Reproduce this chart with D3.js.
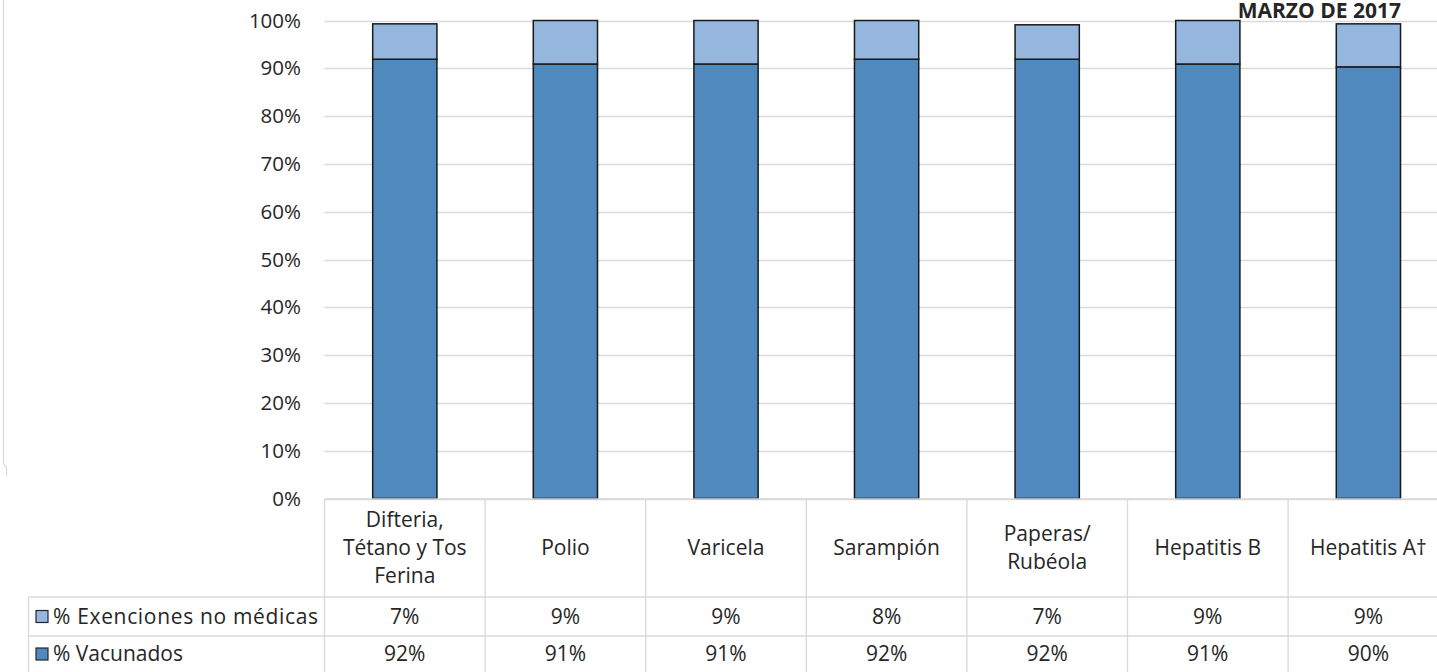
<!DOCTYPE html>
<html>
<head>
<meta charset="utf-8">
<script src="https://cdn.jsdelivr.net/npm/d3@7"></script>
<style>
  html, body { margin: 0; padding: 0; background: #fff; }
  svg { display: block; }
  text { font-family: "Open Sans", "Noto Sans", sans-serif; fill: #262626; }
</style>
</head>
<body>
<svg id="chart" width="1437" height="672"></svg>
<script>
const categories = [
  "Difteria,\nTétano y Tos\nFerina",
  "Polio",
  "Varicela",
  "Sarampión",
  "Paperas/\nRubéola",
  "Hepatitis B",
  "Hepatitis A†"
];
const vacunados   = [0.919, 0.909, 0.909, 0.919, 0.919, 0.909, 0.903];
const exenciones  = [0.074, 0.091, 0.091, 0.081, 0.072, 0.091, 0.090];
const seriesNames = ["% Exenciones no médicas", "% Vacunados"];
const yTicks = [0, 0.1, 0.2, 0.3, 0.4, 0.5, 0.6, 0.7, 0.8, 0.9, 1.0];
const title = "MARZO DE 2017";

const colVac = "#4f89bd";
const colExe = "#95b7de";
const gridCol = "#d9d9d9";
const FS = 21;

const svg = d3.select("#chart");
const W = 1437, H = 672;

const plotLeft = 324.5, colStep = 160.6;
const plotRight = plotLeft + colStep * categories.length;
const yTop = 20.5, yBottom = 498.5;

const x = d3.scaleBand()
  .domain(d3.range(categories.length))
  .range([plotLeft, plotRight])
  .paddingInner(0.6).paddingOuter(0.3);

const y = d3.scaleLinear().domain([0, 1]).range([yBottom, yTop]);

// chart area left border
svg.append("path")
  .attr("d", "M3.5,0 V464 M3.5,464 L6.5,467 V476")
  .attr("stroke", "#d9d9d9").attr("fill", "none").attr("stroke-width", 1.2);

// gridlines
svg.append("g").selectAll("line").data(yTicks).join("line")
  .attr("x1", plotLeft).attr("x2", W)
  .attr("y1", d => Math.round(y(d)) + 0.5).attr("y2", d => Math.round(y(d)) + 0.5)
  .attr("stroke", gridCol).attr("stroke-width", 1.3);

// y axis labels via d3 axis
const yAxis = d3.axisLeft(y).tickValues(yTicks).tickFormat(d3.format(".0%")).tickSize(0).tickPadding(0);
const gy = svg.append("g").attr("transform", `translate(${301},0)`).call(yAxis);
gy.select(".domain").remove();
gy.selectAll("text").attr("font-size", 20.5).attr("fill", "#262626")
  .style("font-family", '"Open Sans", sans-serif');

// stacked bars
const stackData = categories.map((c, i) => ({ i, vac: vacunados[i], exe: exenciones[i] }));
const stack = d3.stack().keys(["vac", "exe"])(stackData);
const colors = { vac: colVac, exe: colExe };
svg.append("g").selectAll("g").data(stack).join("g")
  .attr("fill", d => colors[d.key])
  .selectAll("rect").data(d => d).join("rect")
  .attr("x", d => x(d.data.i))
  .attr("width", x.bandwidth())
  .attr("y", d => y(d[1]))
  .attr("height", d => y(d[0]) - y(d[1]))
  .attr("stroke", "#1a1a1a").attr("stroke-width", 1.5);

// data table
const rowTops = [499, 597, 636, 672];
const tableLeft = 28.5;
const tg = svg.append("g");
tg.append("line").attr("x1", plotLeft).attr("x2", W).attr("y1", rowTops[0]).attr("y2", rowTops[0])
  .attr("stroke", gridCol).attr("stroke-width", 1.3);
[rowTops[1], rowTops[2]].forEach(yy => {
  tg.append("line").attr("x1", tableLeft).attr("x2", W).attr("y1", yy).attr("y2", yy)
    .attr("stroke", gridCol).attr("stroke-width", 1.3);
});
d3.range(categories.length + 1).forEach(k => {
  const xx = plotLeft + k * colStep;
  if (xx < W) tg.append("line").attr("x1", xx).attr("x2", xx).attr("y1", rowTops[0]).attr("y2", H)
    .attr("stroke", gridCol).attr("stroke-width", 1.3);
});
tg.append("line").attr("x1", tableLeft).attr("x2", tableLeft).attr("y1", rowTops[1]).attr("y2", H)
  .attr("stroke", gridCol).attr("stroke-width", 1.3);

// category labels
const lineH = 28;
categories.forEach((c, i) => {
  const lines = c.split("\n");
  const cx = plotLeft + (i + 0.5) * colStep;
  const cy = (rowTops[0] + rowTops[1]) / 2;
  const t = tg.append("text").attr("text-anchor", "middle").attr("font-size", FS);
  lines.forEach((ln, k) => {
    t.append("tspan").attr("x", cx)
      .attr("y", cy + (k - (lines.length - 1) / 2) * lineH)
      .attr("dy", "0.35em").text(ln);
  });
});

// series rows
const fmt = d3.format(".0%");
const rows = [
  { name: seriesNames[0], vals: exenciones, color: colExe },
  { name: seriesNames[1], vals: vacunados, color: colVac }
];
rows.forEach((r, ri) => {
  const cy = (rowTops[ri + 1] + rowTops[ri + 2]) / 2;
  tg.append("rect").attr("x", 36).attr("y", cy - 6).attr("width", 12).attr("height", 12)
    .attr("fill", r.color).attr("stroke", "#262626").attr("stroke-width", 1.2);
  tg.append("text").attr("x", 53).attr("y", cy).attr("dy", "0.35em")
    .attr("font-size", FS).attr("textLength", ri === 0 ? 265 : null).text(r.name);
  r.vals.forEach((v, i) => {
    tg.append("text").attr("x", plotLeft + (i + 0.5) * colStep).attr("y", cy).attr("dy", "0.35em")
      .attr("text-anchor", "middle").attr("font-size", FS).text(fmt(v));
  });
});

// title
svg.append("text").attr("x", 1401).attr("y", 18).attr("text-anchor", "end")
  .attr("font-size", 21).attr("font-weight", "bold").attr("fill", "#000").text(title);
</script>
</body>
</html>
